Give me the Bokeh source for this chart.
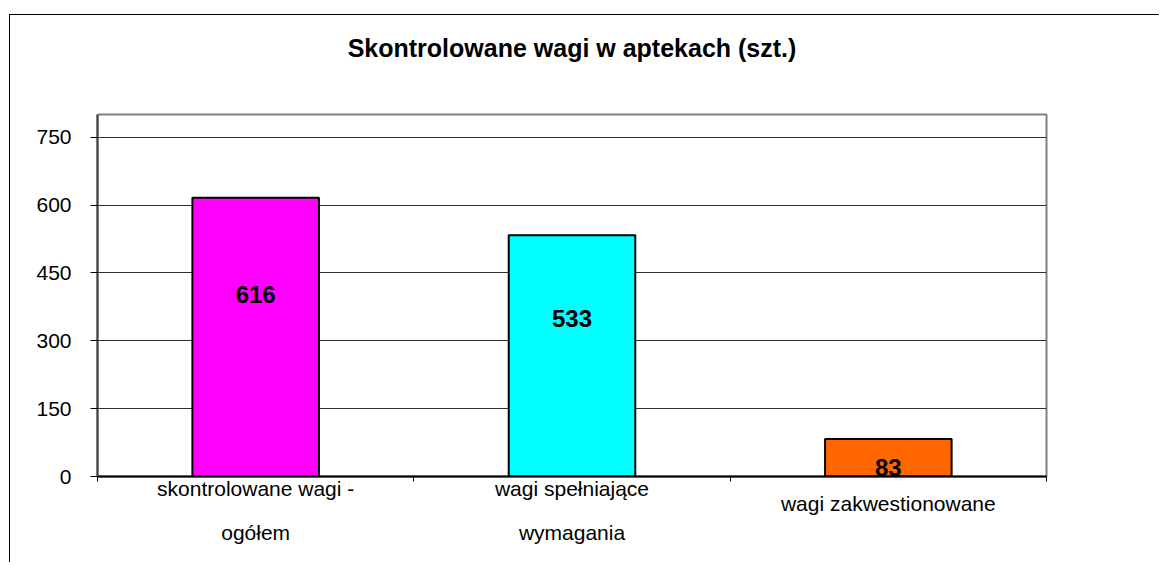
from bokeh.plotting import figure
from bokeh.models import Range1d, FixedTicker, LabelSet, LinearAxis, ColumnDataSource
from bokeh.core.properties import value
from bokeh.embed import file_html
from bokeh.resources import INLINE

# ---- data ----
title_text = "Skontrolowane wagi w aptekach (szt.)"
cat_line1 = ["skontrolowane wagi -", "wagi spełniające", ""]
cat_middle = ["", "", "wagi zakwestionowane"]
cat_line2 = ["ogółem", "wymagania", ""]
values = [616, 533, 83]
value_labels = ["616", "533", "83"]
colors = ["#FF00FF", "#00FFFF", "#FF6600"]
y_ticks = [0, 150, 300, 450, 600, 750]
label_y = [402, 349, 20]  # anchor of value labels (data units)

FONT = "Liberation Sans"

x_pos = [i + 0.5 for i in range(len(values))]
bounds = [float(i) for i in range(len(values) + 1)]

src = ColumnDataSource(dict(x=x_pos, top=values, color=colors, ly=label_y, lab=value_labels))

p = figure(width=1150, height=548, x_range=Range1d(0, 3), y_range=Range1d(0, 800),
           output_backend="svg", toolbar_location=None,
           min_border_left=87, min_border_top=99, min_border_right=114, min_border_bottom=87)

p.styles = {"border-left": "1px solid black", "border-top": "1px solid black",
            "margin-left": "9px", "margin-top": "14px"}

xa = p.below[0]

# invisible spacer between the title and the plot area (white tick on white)
spacer = LinearAxis(ticker=FixedTicker(ticks=[bounds[0]]), major_tick_out=46, major_tick_in=0,
                    minor_tick_out=0, minor_tick_in=0, major_label_standoff=0,
                    major_label_overrides={bounds[0]: ""}, major_label_text_font_size="1px",
                    axis_line_color=None, major_tick_line_color="white",
                    minor_tick_line_color=None)
p.add_layout(spacer, "above")

p.title.text = title_text
p.title.align = "center"
p.title.vertical_align = "top"
p.title.text_font = FONT
p.title.text_font_size = "25px"
p.title.text_font_style = "bold"
p.title.text_color = "black"
p.title.standoff = 10

p.outline_line_color = "#808080"
p.outline_line_width = 2

p.vbar(x="x", top="top", width=0.4, bottom=0, source=src, fill_color="color",
       line_color="black", line_width=2)

# y axis
p.yaxis.ticker = FixedTicker(ticks=y_ticks)
p.yaxis.major_label_text_font = FONT
p.yaxis.major_label_text_font_size = "21px"
p.yaxis.major_label_text_color = "black"
p.yaxis.major_tick_out = 7
p.yaxis.major_tick_in = 0
p.yaxis.minor_tick_out = 0
p.yaxis.minor_tick_in = 0
p.yaxis.major_label_standoff = 19
p.yaxis.axis_line_color = "#404040"
p.yaxis.axis_line_width = 2
p.yaxis.major_tick_line_color = "black"

p.ygrid.grid_line_color = "#303030"
p.ygrid.grid_line_width = 1
p.xgrid.grid_line_color = None


def label_axis(ax, texts, standoff):
    ax.ticker = FixedTicker(ticks=[x for x, t in zip(x_pos, texts) if t])
    ax.major_label_overrides = {x: t for x, t in zip(x_pos, texts) if t}
    ax.major_label_text_font = FONT
    ax.major_label_text_font_size = "21px"
    ax.major_label_text_color = "black"
    ax.major_label_standoff = standoff
    ax.major_tick_out = 0
    ax.major_tick_in = 0
    ax.minor_tick_in = 0


# x axis: first text line, ticks at category boundaries
label_axis(xa, cat_line1, -5)
xa.ticker = FixedTicker(ticks=[x for x, t in zip(x_pos, cat_line1) if t], minor_ticks=bounds)
xa.minor_tick_out = 5
xa.minor_tick_line_color = "black"
xa.axis_line_color = "black"
xa.axis_line_width = 2

# single-line label row and second text line
xb = LinearAxis(axis_line_color=None, minor_tick_out=0)
label_axis(xb, cat_middle, -11)
p.add_layout(xb, "below")

xc = LinearAxis(axis_line_color=None, minor_tick_out=0)
label_axis(xc, cat_line2, 3)
p.add_layout(xc, "below")

# value labels
p.add_layout(LabelSet(x="x", y="ly", text="lab", source=src,
                      text_align="center", text_baseline="middle",
                      text_font=value(FONT), text_font_size=value("24px"),
                      text_font_style="bold", text_color="black"))

open("out.html", "w").write(file_html(p, INLINE))
